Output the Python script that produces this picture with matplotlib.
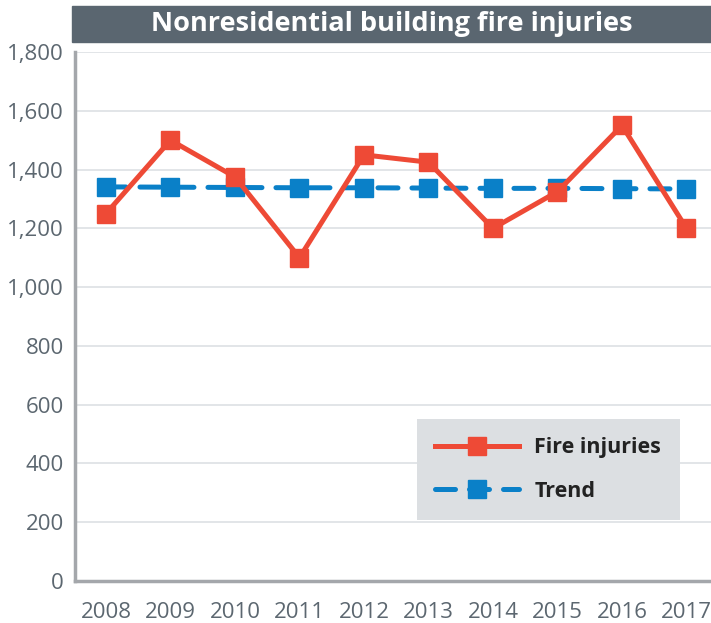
import matplotlib.pyplot as plt
import matplotlib
from matplotlib.patches import Rectangle
from matplotlib.ticker import FuncFormatter

years = ["2008", "2009", "2010", "2011", "2012", "2013", "2014", "2015", "2016", "2017"]
fire_injuries = [1250, 1500, 1375, 1100, 1450, 1425, 1200, 1325, 1550, 1200]
trend = [1341, 1340, 1339, 1338, 1338, 1337, 1336, 1336, 1335, 1334]

RED = "#ee4a36"
BLUE = "#0a80c8"
GRAY_TXT = "#5c6770"


def main():
    matplotlib.rcParams['font.family'] = ['Open Sans', 'DejaVu Sans']

    fig = plt.figure(figsize=(7.11, 6.23), dpi=100)
    ax = fig.add_axes([75 / 711, 1 - 581 / 623, 636 / 711, 529 / 623])

    xs = list(range(len(years)))
    ax.plot(xs, fire_injuries, color=RED, lw=3.6, marker="s", ms=12.5,
            label="Fire injuries", zorder=4)
    ax.plot(xs, trend, color=BLUE, lw=3.6, marker="s", ms=12.5,
            linestyle=(0, (4, 2.8)), dash_capstyle="round",
            label="Trend", zorder=3)

    ax.set_xlim(-0.48, 9.38)
    ax.set_ylim(0, 1800)
    ax.set_yticks(range(0, 1801, 200))
    ax.yaxis.set_major_formatter(FuncFormatter(lambda v, p: f"{int(v):,}"))
    ax.set_xticks(xs)
    ax.set_xticklabels(years)
    ax.tick_params(length=0, labelsize=16, colors=GRAY_TXT, pad=8)
    ax.tick_params(axis="x", pad=15)
    ax.grid(axis="y", color="#dfe3e6", lw=1.3)
    ax.set_axisbelow(True)
    for s in ["top", "right"]:
        ax.spines[s].set_visible(False)
    ax.spines["left"].set_color("#a4a7ab")
    ax.spines["left"].set_linewidth(2.5)
    ax.spines["bottom"].set_color("#a4a7ab")
    ax.spines["bottom"].set_linewidth(2.5)

    leg = ax.legend(loc="upper left", bbox_to_anchor=(0.538, 0.306),
                    borderaxespad=0,
                    prop={"weight": "bold", "size": 15.5}, handlelength=3.9,
                    handletextpad=0.7, labelspacing=1.05, borderpad=0.85,
                    fancybox=False, facecolor="#dcdfe2", edgecolor="none",
                    framealpha=1)
    for t in leg.get_texts():
        t.set_color("#222222")

    # title bar
    fig.patches.append(Rectangle((72 / 711, 1 - 42 / 623), 639 / 711, 36 / 623,
                                 transform=fig.transFigure, color="#5a6670",
                                 zorder=0))
    fig.text((72 + 711) / 2 / 711, 1 - 24 / 623, "Nonresidential building fire injuries",
             ha="center", va="center", color="white", fontsize=19.5,
             fontweight="bold")

    plt.savefig("out.png", dpi=100)


if __name__ == "__main__":
    main()
